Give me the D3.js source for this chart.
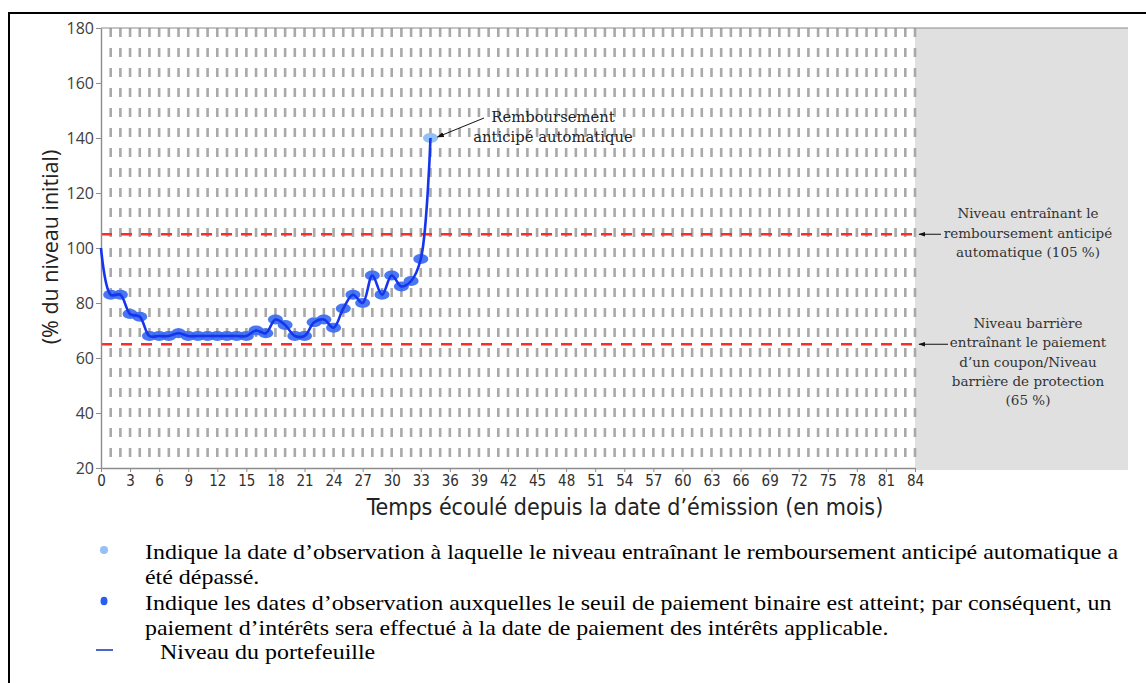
<!DOCTYPE html>
<html>
<head>
<meta charset="utf-8">
<script src="https://cdn.jsdelivr.net/npm/d3@7"></script>
<style>
  html, body { margin: 0; padding: 0; background: #fff; }
  svg { display: block; }
</style>
</head>
<body>
<div id="vis"></div>
<script>
////////////////////////////////////////
//////////////// Data //////////////////
////////////////////////////////////////

// months since issue date and portfolio level (% of initial level)
const months = [0, 1, 2, 3, 4, 5, 6, 7, 8, 9, 10, 11, 12, 13, 14, 15, 16, 17,
  18, 19, 20, 21, 22, 23, 24, 25, 26, 27, 28, 29, 30, 31, 32, 33, 34];
const levels = [100, 83, 83, 76, 75, 68, 68, 68, 69, 68, 68, 68, 68, 68, 68,
  68, 70, 69, 74, 72, 68, 68, 73, 74, 71, 78, 83, 80, 90, 83, 90, 86, 88, 96, 140];

// observation months where the binary coupon threshold was reached
const couponMonths = [1, 2, 3, 4, 5, 6, 7, 8, 9, 10, 11, 12, 13, 14, 15, 16,
  17, 18, 19, 20, 21, 22, 23, 24, 25, 26, 27, 28, 29, 30, 31, 32, 33];
const autocallMonths = [34];

const autocallLevel = 105;
const barrierLevel = 65;

const xTicks = [0, 3, 6, 9, 12, 15, 18, 21, 24, 27, 30, 33, 36, 39, 42, 45, 48,
  51, 54, 57, 60, 63, 66, 69, 72, 75, 78, 81, 84];
const yTicks = [20, 40, 60, 80, 100, 120, 140, 160, 180];
const gridMonths = d3.range(1, 85);

const xTitle = "Temps écoulé depuis la date d’émission (en mois)";
const yTitle = "(% du niveau initial)";
const autocallNote = ["Remboursement", "anticipé automatique"];
const autocallLevelNote = ["Niveau entraînant le", "remboursement anticipé", "automatique (105 %)"];
const barrierNote = ["Niveau barrière", "entraînant le paiement", "d’un coupon/Niveau",
  "barrière de protection", "(65 %)"];

const legendLines = [
  ["Indique la date d’observation à laquelle le niveau entraînant le remboursement anticipé automatique a",
   "été dépassé."],
  ["Indique les dates d’observation auxquelles le seuil de paiement binaire est atteint; par conséquent, un",
   "paiement d’intérêts sera effectué à la date de paiement des intérêts applicable."],
  ["Niveau du portefeuille"]
];

////////////////////////////////////////
/////////////// Options ////////////////
////////////////////////////////////////

const options = {
  width: 1146,
  height: 683,
  plot: { left: 101, right: 915, top: 28, bottom: 468 },
  panelRight: 1128,
  lineColor: "#1434ee",
  couponColor: "#3a6af2",
  autocallColor: "#93c0f6",
  gridColor: "#a9a9a9",
  thresholdColor: "#ff2a2a",
  panelFill: "#e0e0e0",
  sansFont: "'Open Sans', sans-serif",
  narrowFont: "'Liberation Sans Narrow', 'DejaVu Sans Condensed', 'Liberation Sans', sans-serif",
  noteFont: "'DejaVu Serif', serif",
  legendFont: "'Liberation Serif', 'Times New Roman', serif",
};

const points = months.map((m, i) => ({ month: m, level: levels[i] }));

////////////////////////////////////////
////////////// SVG Setup ///////////////
////////////////////////////////////////

const svg = d3
  .select("#vis")
  .append("svg")
  .attr("width", options.width)
  .attr("height", options.height)
  .attr("viewBox", `0 0 ${options.width} ${options.height}`);

svg.append("rect")
  .attr("width", options.width)
  .attr("height", options.height)
  .attr("fill", "#fff");

const defs = svg.append("defs");
defs.append("marker")
  .attr("id", "arrow")
  .attr("viewBox", "0 0 10 10")
  .attr("refX", 9)
  .attr("refY", 5)
  .attr("markerWidth", 7)
  .attr("markerHeight", 7)
  .attr("orient", "auto")
  .append("path")
  .attr("d", "M0,1.5 L10,5 L0,8.5 Z")
  .attr("fill", "#111");

// outer frame of the document box
svg.append("path")
  .attr("d", `M9,${options.height} V13 H${options.width}`)
  .attr("fill", "none")
  .attr("stroke", "#000")
  .attr("stroke-width", 2);

////////////////////////////////////////
////////////// Scales //////////////////
////////////////////////////////////////

const x = d3.scaleLinear()
  .domain([0, 84])
  .range([options.plot.left, options.plot.right]);

const y = d3.scaleLinear()
  .domain([20, 180])
  .range([options.plot.bottom, options.plot.top]);

////////////////////////////////////////
////////////// Background //////////////
////////////////////////////////////////

// grey panel on the right holding the threshold notes
svg.append("rect")
  .attr("x", x(84))
  .attr("y", options.plot.top)
  .attr("width", options.panelRight - x(84))
  .attr("height", options.plot.bottom - options.plot.top + 2)
  .attr("fill", options.panelFill);

// vertical dashed lines at every month
svg.append("g")
  .selectAll("line")
  .data(gridMonths)
  .join("line")
  .attr("x1", (d) => x(d))
  .attr("x2", (d) => x(d))
  .attr("y1", options.plot.top)
  .attr("y2", options.plot.bottom)
  .attr("stroke", options.gridColor)
  .attr("stroke-width", 2.6)
  .attr("stroke-dasharray", "9,11");

// top border
svg.append("line")
  .attr("x1", options.plot.left)
  .attr("x2", options.panelRight)
  .attr("y1", options.plot.top)
  .attr("y2", options.plot.top)
  .attr("stroke", "#8c8c8c")
  .attr("stroke-width", 1.2);

// threshold lines
svg.append("g")
  .selectAll("line")
  .data([autocallLevel, barrierLevel])
  .join("line")
  .attr("x1", x(0))
  .attr("x2", x(84))
  .attr("y1", (d) => y(d))
  .attr("y2", (d) => y(d))
  .attr("stroke", options.thresholdColor)
  .attr("stroke-width", 2.6)
  .attr("stroke-dasharray", "11,9");

////////////////////////////////////////
//////////////// Axis //////////////////
////////////////////////////////////////

const yAxis = svg.append("g")
  .attr("transform", `translate(${options.plot.left},0)`)
  .call(d3.axisLeft(y).tickValues(yTicks).tickSize(5).tickSizeOuter(0));
yAxis.select(".domain").attr("stroke", "#8c8c8c").attr("stroke-width", 1.4);
yAxis.selectAll(".tick line").attr("stroke", "#8c8c8c");
yAxis.selectAll(".tick text")
  .attr("x", -7)
  .attr("fill", "#404040")
  .style("font-family", options.sansFont)
  .style("font-size", "16px");

const xAxis = svg.append("g")
  .attr("transform", `translate(0,${options.plot.bottom})`)
  .call(d3.axisBottom(x).tickValues(xTicks).tickSize(4).tickSizeOuter(0));
xAxis.select(".domain").attr("stroke", "#8c8c8c").attr("stroke-width", 1.4);
xAxis.selectAll(".tick line").attr("stroke", "#8c8c8c");
xAxis.selectAll(".tick text")
  .attr("y", 7)
  .attr("fill", "#303030")
  .style("font-family", options.narrowFont)
  .style("font-size", "15px");

svg.append("text")
  .attr("x", 625)
  .attr("y", 515)
  .attr("text-anchor", "middle")
  .attr("fill", "#222")
  .style("font-family", options.narrowFont)
  .style("font-size", "23px")
  .text(xTitle);

svg.append("text")
  .attr("transform", "translate(58,247) rotate(-90)")
  .attr("text-anchor", "middle")
  .attr("fill", "#222")
  .style("font-family", options.sansFont)
  .style("font-size", "21.5px")
  .text(yTitle);

////////////////////////////////////////
////////////// Series //////////////////
////////////////////////////////////////

const line = d3.line()
  .x((d) => x(d.month))
  .y((d) => y(d.level))
  .curve(d3.curveCatmullRom.alpha(0.5));

const couponPts = points.filter((d) => couponMonths.includes(d.month));
const autocallPts = points.filter((d) => autocallMonths.includes(d.month));

svg.append("g")
  .selectAll("ellipse")
  .data(couponPts)
  .join("ellipse")
  .attr("cx", (d) => x(d.month))
  .attr("cy", (d) => y(d.level))
  .attr("rx", 7.5)
  .attr("ry", 4.9)
  .attr("fill", options.couponColor)
  .attr("opacity", 0.92);

svg.append("g")
  .selectAll("ellipse")
  .data(autocallPts)
  .join("ellipse")
  .attr("cx", (d) => x(d.month))
  .attr("cy", (d) => y(d.level))
  .attr("rx", 7.5)
  .attr("ry", 4.9)
  .attr("fill", options.autocallColor);

svg.append("path")
  .datum(points)
  .attr("d", line)
  .attr("fill", "none")
  .attr("stroke", options.lineColor)
  .attr("stroke-width", 2.6);

////////////////////////////////////////
//////////// Annotations ///////////////
////////////////////////////////////////

function noteBlock(lines, cx, top, step, color, size) {
  svg.append("text")
    .attr("text-anchor", "middle")
    .attr("fill", color)
    .style("font-family", options.noteFont)
    .style("font-size", size + "px")
    .selectAll("tspan")
    .data(lines)
    .join("tspan")
    .attr("x", cx)
    .attr("y", (d, i) => top + i * step)
    .text((d) => d);
}

// autocall point callout
const last = autocallPts[0];
noteBlock(autocallNote, 553, 122, 20, "#222", 14.8);
svg.append("line")
  .attr("x1", 484)
  .attr("y1", 118)
  .attr("x2", x(last.month) + 7)
  .attr("y2", y(last.level) - 1)
  .attr("stroke", "#111")
  .attr("stroke-width", 1)
  .attr("marker-end", "url(#arrow)");

// threshold notes in the grey panel
noteBlock(autocallLevelNote, 1028, 218, 19.5, "#333", 13.5);
noteBlock(barrierNote, 1028, 328, 19.3, "#333", 13.5);

[[autocallLevel, 941], [barrierLevel, 948]].forEach(([lvl, x1]) => {
  svg.append("line")
    .attr("x1", x1)
    .attr("y1", y(lvl))
    .attr("x2", x(84) + 4)
    .attr("y2", y(lvl))
    .attr("stroke", "#111")
    .attr("stroke-width", 1)
    .attr("marker-end", "url(#arrow)");
});

////////////////////////////////////////
/////////////// Legend /////////////////
////////////////////////////////////////

const legendRows = [552, 603, 652];
const legendStretch = 1.14; // the source text is a little wider than Times
const legend = svg.append("g");

legend.append("circle")
  .attr("cx", 104).attr("cy", legendRows[0] - 2).attr("r", 4)
  .attr("fill", options.autocallColor);
legend.append("ellipse")
  .attr("cx", 104).attr("cy", legendRows[1] - 2).attr("rx", 3.5).attr("ry", 4.3)
  .attr("fill", "#2a5ef0");
legend.append("line")
  .attr("x1", 96).attr("x2", 113)
  .attr("y1", legendRows[2] - 2).attr("y2", legendRows[2] - 2)
  .attr("stroke", "#1f3fc4").attr("stroke-width", 1.6);

legendLines.forEach((rows, i) => {
  const left = i === 2 ? 160 : 145;
  legend.append("text")
    .attr("transform", `translate(${left},0) scale(${legendStretch},1)`)
    .attr("fill", "#000")
    .style("font-family", options.legendFont)
    .style("font-size", "21px")
    .selectAll("tspan")
    .data(rows)
    .join("tspan")
    .attr("x", 0)
    .attr("y", (d, j) => legendRows[i] + 7 + j * 25.5)
    .text((d) => d);
});
</script>
</body>
</html>
